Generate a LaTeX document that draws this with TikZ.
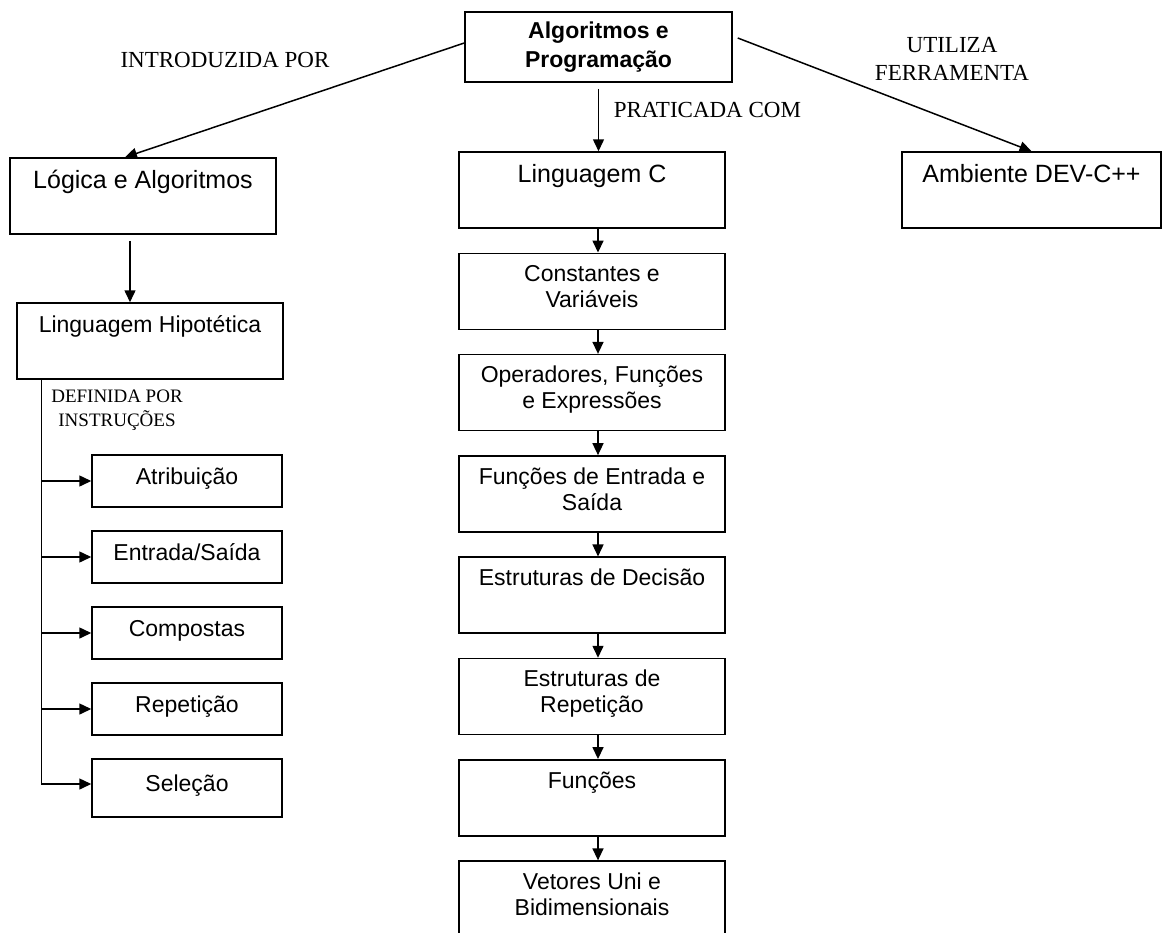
\documentclass[tikz,border=0pt]{standalone}
\usepackage{fontspec}
\setmainfont{Liberation Serif}
\setsansfont{Liberation Sans}
\usepackage{tikz}
\usetikzlibrary{arrows.meta, positioning}
\tikzstyle{mapa}=[x=1pt, y=-1pt, line width=1.5pt, >={Triangle[length=12pt,width=11pt]}, node distance=23.8pt]
\tikzstyle{caixa}=[draw, rectangle, inner sep=0pt, align=center, minimum width=266pt, minimum height=76pt, text depth=10pt, font=\sffamily\fontsize{23}{26}\selectfont]
\tikzstyle{grande}=[caixa, text depth=5pt, font=\sffamily\fontsize{25}{28}\selectfont]
\tikzstyle{instr}=[caixa, minimum width=190pt, minimum height=52pt]
\tikzstyle{rotulo}=[inner sep=0pt, align=center, font=\rmfamily\fontsize{23}{28}\selectfont]

\begin{document}
\begin{tikzpicture}[mapa]
  \fill[white] (0,0) rectangle (1164,932);
  \useasboundingbox (0,0) rectangle (1164,932);
  \node[caixa, minimum width=267pt, minimum height=70pt, text depth=5pt, font=\sffamily\bfseries\fontsize{23}{29}\selectfont] (alg) at (598.5,47) {Algoritmos e\\Programação};
  \node[grande] (logica) at (143,196) {Lógica e Algoritmos\\\mbox{}};
  \node[grande] (lingc) at (592,190) {Linguagem C\\\mbox{}};
  \node[grande, minimum width=259pt] (ambiente) at (1031.5,190) {Ambiente DEV-C++\\\mbox{}};
  \node[caixa, text depth=5pt, font=\sffamily\fontsize{23}{28}\selectfont] (hipot) at (150,341) {Linguagem Hipotética\\\mbox{}};
  \node[caixa] (const) [below=of lingc] {Constantes e\\Variáveis};
  \node[caixa] (oper) [below=of const] {Operadores, Funções\\e Expressões};
  \node[caixa] (entsai) [below=of oper] {Funções de Entrada e\\Saída};
  \node[caixa] (decisao) [below=of entsai] {Estruturas de Decisão\\\mbox{}};
  \node[caixa] (repet) [below=of decisao] {Estruturas de\\Repetição};
  \node[caixa] (funcoes) [below=of repet] {Funções\\\mbox{}};
  \node[caixa] (vetores) [below=of funcoes] {Vetores Uni e\\Bidimensionais};
  \node[instr] (atrib) at (187,481) {Atribuição};
  \node[instr] (entrada) [below=22.5pt of atrib] {Entrada/Saída};
  \node[instr] (compostas) [below=22.5pt of entrada] {Compostas};
  \node[instr] (repeticao) [below=22.5pt of compostas] {Repetição};
  \node[instr, minimum height=58pt] (selecao) [below=22.5pt of repeticao] {Seleção};
  \coordinate (tronco) at ([xshift=25pt]hipot.south west);
  \node[rotulo] (introd) at (225,60) {INTRODUZIDA POR};
  \node[rotulo, anchor=west] (pratica) at (613,110) {PRATICADA COM};
  \node[rotulo] (utiliza) at (952,59) {UTILIZA\\FERRAMENTA};
  \node[rotulo, font=\rmfamily\fontsize{19}{24}\selectfont] (definida) at (117,410) {DEFINIDA POR\\INSTRUÇÕES};
  \draw[->] ([yshift=4pt]alg.west) -- ([xshift=-18pt]logica.north);
  \draw[->] ([shift={(5pt,9pt)}]alg.east) -- (ambiente.north);
  \draw[->] ([yshift=-6pt]alg.south) -- (alg.south |- lingc.north);
  \draw[->] ([xshift=-13pt,yshift=-6pt]logica.south) -- ([xshift=-20pt]hipot.north);
  \foreach \a/\b in {lingc/const, const/oper, oper/entsai, entsai/decisao, decisao/repet, repet/funcoes, funcoes/vetores}
    \draw[->] ([xshift=6pt]\a.south) -- ([xshift=6pt]\b.north);
  \draw[->] (tronco) |- ([yshift=4pt]selecao.west);
  \foreach \b in {atrib, entrada, compostas, repeticao}
    \draw[->] (tronco |- \b.west) -- (\b.west);
\end{tikzpicture}
\end{document}
